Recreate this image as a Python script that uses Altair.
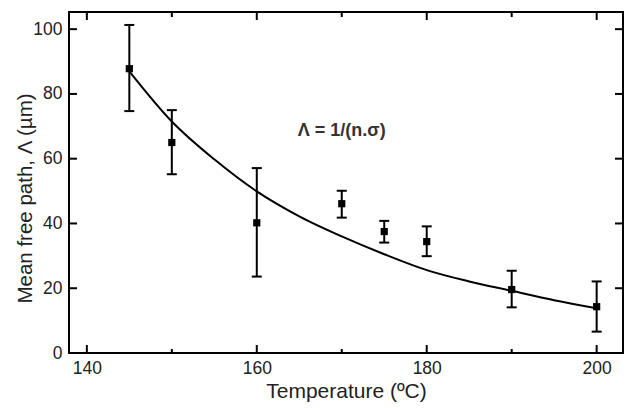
import altair as alt
import pandas as pd

# Measured data points
temp = [145, 150, 160, 170, 175, 180, 190, 200]
mfp = [87.8, 65.0, 40.2, 46.1, 37.5, 34.4, 19.6, 14.3]
err_hi = [101.3, 75.0, 57.1, 50.1, 40.8, 39.1, 25.4, 22.1]
err_lo = [74.7, 55.2, 23.6, 41.8, 34.1, 29.9, 14.1, 6.6]

# Fitted curve
curve_t = [145, 150, 155, 160, 165, 170, 175, 180, 185, 190, 195, 200]
curve_v = [87.0, 71.5, 59.8, 49.9, 42.2, 36.0, 30.5, 25.6, 22.1, 19.2, 16.3, 13.8]

x_major = [140, 160, 180, 200]
x_minor = [150, 170, 190]
y_major = [0, 20, 40, 60, 80, 100]

W, H = 554, 341
XDOM = [137.9, 203.1]
YDOM = [0, 105.3]

pts = pd.DataFrame({"t": temp, "v": mfp, "hi": err_hi, "lo": err_lo})
cur = pd.DataFrame({"t": curve_t, "v": curve_v})
xmaj = pd.DataFrame({"t": x_major})
xmin = pd.DataFrame({"t": x_minor})
ymaj = pd.DataFrame({"v": [v for v in y_major if v != 0]})

xs = alt.Scale(domain=XDOM, nice=False, zero=False)
ys = alt.Scale(domain=YDOM, nice=False, zero=False)

FONT = "Liberation Sans"

xaxis = alt.Axis(values=x_major, title="Temperature (ºC)", grid=False, ticks=False,
                 domain=False, labelFontSize=17.5, labelColor="#222", labelPadding=6,
                 titleFontSize=21, titleFontWeight="normal", titleColor="#222",
                 titleY=44, titleBaseline="alphabetic", titleX=277,
                 labelFont=FONT, titleFont=FONT)
yaxis = alt.Axis(values=y_major, title="Mean free path, Λ (µm)", grid=False, ticks=False,
                 domain=False, labelFontSize=17.5, labelColor="#222", labelPadding=7,
                 titleFontSize=20.5, titleFontWeight="normal", titleColor="#222",
                 titleAngle=270, titleX=-38, titleY=186, titleBaseline="alphabetic",
                 titleAlign="center", labelFont=FONT, titleFont=FONT)

line = alt.Chart(cur).mark_line(color="black", strokeWidth=2, interpolate="monotone").encode(
    x=alt.X("t:Q", scale=xs, axis=xaxis),
    y=alt.Y("v:Q", scale=ys, axis=yaxis),
)

bars = alt.Chart(pts).mark_rule(color="black", strokeWidth=2).encode(
    x="t:Q", y="lo:Q", y2="hi:Q"
)
cap_hi = alt.Chart(pts).mark_rule(color="black", strokeWidth=2, xOffset=-5, x2Offset=5).encode(
    x="t:Q", x2="t:Q", y="hi:Q"
)
cap_lo = alt.Chart(pts).mark_rule(color="black", strokeWidth=2, xOffset=-5, x2Offset=5).encode(
    x="t:Q", x2="t:Q", y="lo:Q"
)
squares = alt.Chart(pts).mark_square(color="black", opacity=1, size=52).encode(
    x="t:Q", y="v:Q"
)

tick_style = dict(color="black", strokeWidth=2)
bx_maj = alt.Chart(xmaj).mark_rule(**tick_style).encode(x="t:Q", y=alt.value(H), y2=alt.value(H - 8))
bx_min = alt.Chart(xmin).mark_rule(**tick_style).encode(x="t:Q", y=alt.value(H), y2=alt.value(H - 4))
tx_maj = alt.Chart(xmaj).mark_rule(**tick_style).encode(x="t:Q", y=alt.value(0), y2=alt.value(8))
tx_min = alt.Chart(xmin).mark_rule(**tick_style).encode(x="t:Q", y=alt.value(0), y2=alt.value(5))
ly = alt.Chart(ymaj).mark_rule(**tick_style).encode(y="v:Q", x=alt.value(0), x2=alt.value(8))
ry = alt.Chart(ymaj).mark_rule(**tick_style).encode(y="v:Q", x=alt.value(W), x2=alt.value(W - 8))

label = alt.Chart(pd.DataFrame({"t": [170.0], "v": [68.6], "s": ["Λ = 1/(n.σ)"]})).mark_text(
    font=FONT, fontSize=18, fontWeight="bold", color="#333", align="center", baseline="middle"
).encode(x="t:Q", y="v:Q", text="s:N")

chart = alt.layer(
    line, bars, cap_hi, cap_lo, squares, bx_maj, bx_min, tx_maj, tx_min, ly, ry, label
).properties(
    width=W, height=H,
    autosize=alt.AutoSizeParams(type="none"),
    padding={"left": 61, "top": 4, "right": 4, "bottom": 50},
    background="white",
).configure_view(
    stroke="black", strokeWidth=2
)

chart.save("out.html", embed_options={"renderer": "svg", "actions": False})
